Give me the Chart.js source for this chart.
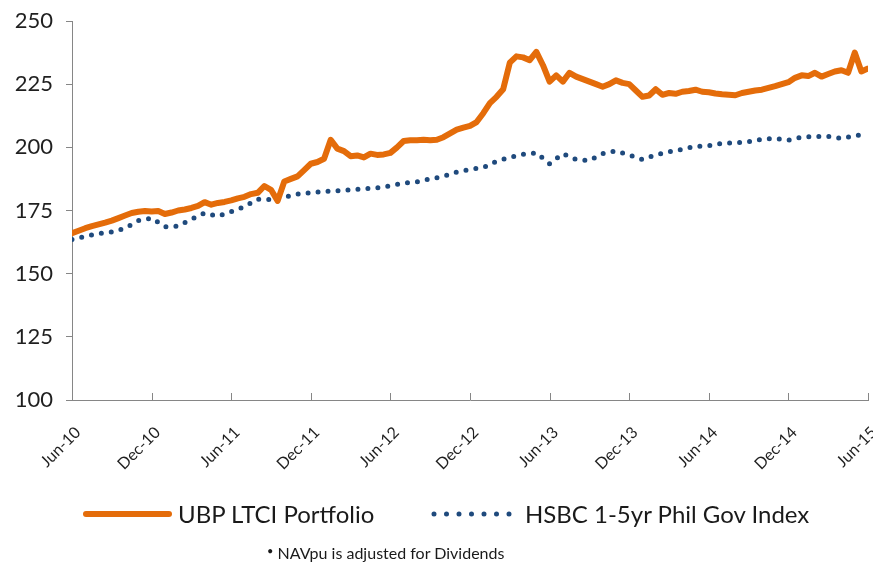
<!DOCTYPE html>
<html><head><meta charset="utf-8">
<script src="https://cdn.jsdelivr.net/npm/chart.js@4.4.1/dist/chart.umd.min.js"></script>
<style>
html,body{margin:0;padding:0;background:#fff;}
#wrap{position:relative;width:873px;height:564px;overflow:hidden;}
#c{position:absolute;left:0;top:0;}
.leg{position:absolute;font-family:Lato, sans-serif;color:#1a1a1a;white-space:nowrap;line-height:1;}
</style></head><body>
<div id="wrap">
<canvas id="c" width="873" height="564"></canvas>
<svg style="position:absolute;left:78px;top:508px" width="100" height="12"><line x1="8" y1="6" x2="91" y2="6" stroke="#E46C0A" stroke-width="6" stroke-linecap="round"/></svg>
<div class="leg" id="l1" style="left:178px;top:502px;font-size:24px;">UBP LTCI Portfolio</div>
<svg style="position:absolute;left:428px;top:508px" width="92" height="12"><line x1="6" y1="6" x2="84" y2="6" stroke="#1F4A7D" stroke-width="5" stroke-linecap="round" stroke-dasharray="0 12.5"/></svg>
<div class="leg" id="l2" style="left:525px;top:502px;font-size:24px;">HSBC 1-5yr Phil Gov Index</div>
<div class="leg" style="left:267px;top:545px;font-size:16px;"><span style="font-size:11px;vertical-align:4px;">&#8226;</span> NAVpu is adjusted for Dividends</div>
</div>
<script>
// Semi-monthly values, Jun-10 .. Jun-15
const portfolioValues = [166,167,168,168.8,169.5,170.2,171,172,173,174,
174.5,174.8,174.6,174.8,173.6,174.2,175,175.4,176,176.8,
178.3,177.3,178,178.4,179,179.8,180.4,181.5,182,184.7,
183.2,178.8,186.5,187.5,188.5,191,193.5,194.2,195.5,203,
199.5,198.5,196.5,196.8,196,197.5,197,197.2,197.8,200,
202.5,202.8,202.8,203,202.8,203,204,205.5,207,207.8,
208.5,210,213.5,217.5,220,223,233.5,236,235.6,234.5,
237.8,232.5,226,228.5,226,229.5,228,227,226,225,
224,225,226.5,225.5,225,222.5,220,220.5,223,220.8,
221.5,221.2,222,222.3,222.8,222,221.8,221.3,221,220.8,
220.6,221.5,222,222.5,222.8,223.5,224.2,225,225.8,227.5,
228.5,228.2,229.5,228,229,230,230.5,229.5,237.5,230,
231.2];
// Monthly values, Jun-10 .. Jun-15
const indexValues = [163.5,164.8,165.8,166.5,168,171,172,168.6,168.8,171.5,
174,172.7,174.5,176.5,179.5,179.3,180.3,181.5,182,182.5,
182.8,183.2,183.6,184,184.8,185.8,186.3,187.5,188.5,190.2,
191.3,192,194.5,196,197.2,197.8,193.5,197.5,195.2,194.8,
197.5,198.6,197,195.2,197,198.2,199.2,200.4,200.6,201.6,
201.8,202.2,203.2,203.5,202.8,204,204.3,204.3,203.5,204.6,
205.2];
const tickLabels = ['Jun-10','Dec-10','Jun-11','Dec-11','Jun-12','Dec-12','Jun-13','Dec-13','Jun-14','Dec-14','Jun-15'];
const seriesNames = ['UBP LTCI Portfolio','HSBC 1-5yr Phil Gov Index'];

const portfolioPts = portfolioValues.map((v,i)=>({x:i/2,y:v}));
const indexPts = indexValues.map((v,i)=>({x:i,y:v}));

const AXIS = '#868686';
const TXT = '#1f1f1f';

const innerTicks = {
  id:'innerTicks',
  afterDraw(chart){
    const xs = chart.scales.x, ctx = chart.ctx, b = chart.chartArea.bottom;
    ctx.save();
    ctx.strokeStyle = AXIS; ctx.lineWidth = 1;
    for (let m=0; m<=60; m+=6){
      const px = Math.round(xs.getPixelForValue(m))+0.5;
      ctx.beginPath(); ctx.moveTo(px,b); ctx.lineTo(px,b-7); ctx.stroke();
    }
    ctx.restore();
  }
};

new Chart(document.getElementById('c'), {
  type:'line',
  data:{datasets:[
    {label:seriesNames[0], data:portfolioPts, borderColor:'#E46C0A', borderWidth:6, pointRadius:0, tension:0, borderJoinStyle:'round', borderCapStyle:'round'},
    {label:seriesNames[1], data:indexPts, borderColor:'#1F4A7D', borderWidth:5, pointRadius:0, tension:0, borderDash:[0,10], borderCapStyle:'round'}
  ]},
  options:{
    responsive:false, animation:false,
    layout:{padding:{top:21,right:5,left:0,bottom:0}},
    plugins:{legend:{display:false}, tooltip:{enabled:false}},
    scales:{
      x:{type:'linear', min:0, max:60,
        afterBuildTicks(s){ s.ticks = tickLabels.map((t,i)=>({value:i*6})); },
        afterFit(s){ s.height = 164; s.paddingLeft = 0; s.paddingRight = 0; },
        ticks:{autoSkip:false, maxRotation:45, minRotation:45, padding:23, labelOffset:6, color:TXT,
          font:{family:'Lato', size:16}, callback:(v)=>tickLabels[Math.round(v/6)]},
        grid:{display:false, drawTicks:false},
        border:{color:AXIS, width:1}
      },
      y:{min:100, max:250,
        afterFit(s){ s.width = 72; s.paddingTop = 0; s.paddingBottom = 0; },
        ticks:{stepSize:25, padding:13, color:TXT, font:{family:'Lato', size:22}},
        grid:{display:true, drawOnChartArea:false, drawTicks:true, tickLength:6, color:AXIS},
        border:{color:AXIS, width:1}
      }
    }
  },
  plugins:[innerTicks]
});
</script>
</body></html>
